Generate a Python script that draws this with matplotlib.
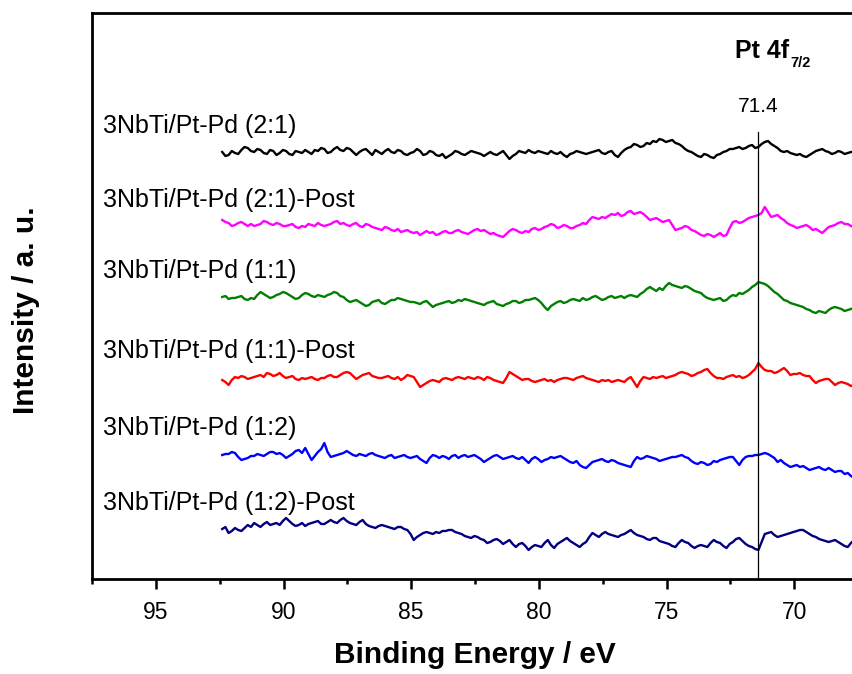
import numpy as np
import matplotlib
matplotlib.use('Agg')
import matplotlib.pyplot as plt
from matplotlib.ticker import MultipleLocator

plt.rcParams['font.family'] = ['Liberation Sans', 'DejaVu Sans']

# binding energy grid (eV)
energy = np.arange(92.4, 67.39, -0.125)

labels = ['3NbTi/Pt-Pd (2:1)', '3NbTi/Pt-Pd (2:1)-Post', '3NbTi/Pt-Pd (1:1)',
          '3NbTi/Pt-Pd (1:1)-Post', '3NbTi/Pt-Pd (1:2)', '3NbTi/Pt-Pd (1:2)-Post']
colors = ['black', '#ff00ff', '#008000', 'red', 'blue', '#000080']
offsets = [426, 352, 281, 201, 124, 49]

# intensities (a.u., relative to each spectrum's own level)
pt_21 = [1, -3, -2, 2, 0, -1, 3, 6, 5, 2, 1, 4, 3, 0, -1, 3, 2, -2, 0, 3,
         2, -1, -2, 2, 1, 0, 3, 1, -1, 3, 2, 5, 4, 0, 1, 4, 6, 3, 2, 5,
         4, 1, -2, 1, 3, 4, 1, -2, 3, 1, -1, 2, 4, 1, 0, 3, 2, -1, -2, 0,
         1, 4, 2, -2, -1, 2, 1, -2, -3, -1, -5, -3, -1, 2, 1, -1, -2, 0, 2, 1,
         0, -1, -3, -1, 1, -1, -2, 0, 2, -2, -6, -3, -1, 2, 1, 0, 3, 1, 0, 2,
         1, 0, -1, 2, 0, -1, 1, -2, -4, -1, 0, 2, 1, 0, -1, 0, 1, 2, 3, 0,
         -1, 1, 2, -2, -4, 0, 3, 5, 6, 9, 8, 6, 7, 10, 9, 12, 11, 14, 13, 11,
         12, 13, 10, 9, 7, 4, 2, 1, -1, -3, -4, -1, -2, -4, -5, -2, -1, 1, 2, 4,
         4, 5, 6, 4, 5, 7, 8, 5, 6, 9, 11, 12, 9, 7, 5, 2, 1, 2, 0, -1,
         -2, -1, -3, -4, -2, 0, 2, 3, 4, 2, 1, -1, 0, 2, 1, -1, 0, 1, 1, 0,
         0]
pt_21_post = [7, 5, 4, 1, 2, 4, 5, 3, 1, 3, 1, 2, 3, 6, 5, 3, 2, 4, 3, 1,
              1, 2, 3, 0, -1, 1, 0, 3, 2, 1, 4, 2, 1, 2, 3, 5, 6, 3, 4, 2,
              1, 3, 4, 1, 0, 3, 2, 0, -1, -2, -3, 0, -1, -3, -4, -2, -5, -4, -3, -5,
              -6, -5, -8, -6, -4, -6, -5, -8, -7, -5, -4, -6, -6, -4, -3, -5, -6, -7, -5, -3,
              -2, -4, -3, -5, -7, -6, -8, -9, -10, -7, -4, -2, -3, -5, -6, -4, -5, -2, -1, -3,
              -2, 0, 1, 3, 2, -1, 0, 2, 1, -1, -1, 1, 2, 4, 3, 7, 10, 9, 8, 10,
              9, 11, 13, 12, 14, 11, 12, 15, 16, 13, 14, 15, 13, 10, 7, 8, 9, 7, 5, 6,
              7, 2, -3, -2, -1, 1, 0, -3, -4, -6, -8, -9, -7, -8, -10, -8, -6, -9, -8, -1,
              5, 6, 4, 5, 7, 9, 10, 11, 12, 14, 20, 15, 10, 11, 12, 9, 7, 4, 2, 1,
              -1, 0, 1, 2, 0, -3, -2, -4, -6, -3, 0, 1, 2, 4, 5, 3, 3, 1, 0, 2,
              1]
pt_11 = [1, 2, -1, 0, 0, 1, 2, -1, -2, 0, -1, 3, 6, 4, 2, 0, 1, 3, 4, 6,
         5, 3, 1, -1, 0, 3, 5, 4, 2, 1, 3, 2, 1, 3, 4, 6, 5, 2, 1, -2,
         -4, -3, -2, -4, -6, -8, -7, -4, -3, -2, -5, -6, -4, -2, -2, 0, -1, -2, -3, -4,
         -4, -5, -6, -4, -3, -6, -9, -7, -6, -5, -4, -3, -5, -4, -2, -3, -1, -2, -3, -4,
         -5, -6, -7, -5, -4, -3, -6, -7, -8, -6, -5, -3, -3, -5, -4, -2, -2, -1, 0, -2,
         -5, -9, -12, -8, -6, -4, -3, -5, -4, -2, -1, -2, -3, 0, -2, -1, 1, 2, 0, -2,
         -1, 1, 2, 0, 1, 2, 0, 2, 3, 2, 1, 4, 6, 9, 11, 9, 7, 10, 8, 12,
         15, 13, 12, 11, 10, 12, 11, 9, 7, 6, 5, 2, 0, -1, -2, -1, 0, -3, -2, 1,
         3, 2, 5, 4, 6, 8, 11, 13, 16, 15, 14, 12, 9, 6, 4, 1, -2, -3, -5, -6,
         -7, -8, -9, -11, -12, -14, -15, -13, -14, -15, -12, -10, -9, -10, -11, -13, -12, -11, -10, -8,
         -9]
pt_11_post = [-2, -4, -7, -2, 1, 0, 2, 1, -1, 0, 1, 2, 3, 1, 5, 4, 2, 3, 5, 2,
              0, 1, 2, -1, -2, 0, -1, 0, 1, -1, -2, 0, 0, 2, 3, 1, 1, 3, 5, 6,
              5, 2, -1, 1, 3, 4, 5, 2, 1, 0, 0, 1, 2, 0, -1, 1, -2, 0, 3, 2,
              1, -4, -9, -7, -5, -3, -2, -3, -4, -1, 0, -1, -2, 0, 1, 0, -1, 1, 0, -1,
              1, 0, -2, 1, 0, -2, -3, -4, -5, 0, 6, 4, 2, 0, -2, -1, -1, -3, -4, -3,
              -2, -1, -3, -2, -4, -2, -1, 0, 0, -1, -2, 0, 1, 2, 0, -1, -2, -3, -4, -2,
              -3, -2, -4, -3, -2, -3, -4, -1, 1, -4, -9, -3, 1, 0, -1, 1, 0, 1, 2, 0,
              1, 2, 3, 5, 6, 5, 4, 2, 3, 5, 6, 8, 9, 5, 2, 0, 0, -1, 1, 2,
              3, 1, 2, 0, 1, 3, 6, 9, 15, 11, 8, 7, 7, 5, 6, 8, 10, 7, 3, 4,
              4, 5, 3, 2, 2, -2, -5, -3, -2, -1, -1, -4, -7, -5, -4, -5, -6, -8, -7, -6,
              -7]
pt_12 = [0, 1, 1, 3, 2, -2, -5, -4, -3, -1, -1, 1, 0, -1, 1, 3, 3, 1, 2, 0,
         -3, -1, 1, 4, 5, 2, 7, 1, -5, -1, 3, 6, 12, 3, -2, -1, 0, 1, 2, 4,
         2, 0, -1, 1, 0, -1, 1, 2, 0, -1, -2, -3, -1, 0, -3, -2, -1, 0, -2, -3,
         -2, -1, -4, -6, -8, -3, 0, -1, -3, -1, -2, -4, -1, 0, -3, -1, 0, -2, -1, 0,
         -2, -4, -7, -5, -3, -1, 0, -2, -4, -3, -2, -1, -3, -4, -2, -5, -8, -4, -2, -4,
         -7, -5, -4, -2, -3, -2, -1, -3, -5, -7, -8, -6, -10, -12, -13, -10, -7, -6, -5, -4,
         -6, -7, -5, -6, -8, -9, -10, -11, -12, -6, -2, -4, -3, -1, -2, -3, -4, -6, -5, -4,
         -3, -2, -2, -1, 0, -2, -3, -6, -8, -9, -7, -8, -10, -9, -6, -7, -5, -4, -3, -2,
         -2, -6, -10, -5, -2, -1, -1, 0, 0, 1, 2, 1, -1, -3, -7, -5, -8, -10, -12, -11,
         -10, -12, -11, -13, -15, -14, -13, -12, -14, -15, -13, -15, -17, -16, -16, -19, -18, -21, -23, -22,
         -24]
pt_12_post = [1, 3, -3, -1, 2, 0, -1, 2, 5, 3, 7, 5, 3, 6, 8, 5, 6, 7, 5, 9,
              12, 9, 6, 4, 5, 7, 4, 6, 7, 8, 9, 6, 6, 8, 10, 8, 7, 10, 12, 9,
              7, 6, 5, 8, 10, 6, 4, 3, 2, 4, 5, 4, 3, 2, 1, 3, 3, 1, 0, -4,
              -10, -7, -5, -3, -2, -3, -4, -2, -3, -1, -1, 0, 0, -2, -3, -4, -6, -7, -8, -6,
              -7, -9, -10, -13, -12, -10, -9, -11, -14, -12, -10, -14, -17, -14, -13, -16, -20, -17, -15, -16,
              -17, -13, -10, -15, -18, -14, -12, -10, -8, -11, -13, -15, -17, -14, -12, -7, -3, -5, -7, -4,
              -2, -4, -5, -6, -7, -5, -4, -2, 0, -3, -5, -6, -7, -9, -10, -8, -8, -11, -12, -13,
              -14, -16, -17, -13, -10, -12, -13, -16, -18, -16, -15, -16, -17, -13, -10, -12, -13, -16, -18, -14,
              -12, -9, -8, -11, -14, -16, -17, -19, -20, -12, -4, -3, -2, -5, -7, -6, -5, -4, -3, -2,
              -1, 0, 0, -2, -4, -6, -7, -9, -10, -11, -12, -11, -10, -12, -14, -16, -17, -13, -10, -11,
              -12]

spectra = [pt_21, pt_21_post, pt_11, pt_11_post, pt_12, pt_12_post]
peak_pos = 71.4

fig = plt.figure(figsize=(8.52, 6.74), dpi=100)
ax = fig.add_axes([92 / 852, 1 - 579 / 674, 766 / 852, 566 / 674])

for lab, col, off, y in zip(labels, colors, offsets, spectra):
    ax.plot(energy, off + np.array(y), color=col, lw=1.7)
    ax.text(97.05, off + 20, lab, fontsize=18, ha='left', va='baseline')

ax.axvline(peak_pos, ymin=0, ymax=447 / 566, color='black', lw=0.9)
ax.text(peak_pos, 467, '71.4', fontsize=15, ha='center', va='baseline')
t = ax.text(72.31, 521, 'Pt 4f', fontsize=18, fontweight='bold', ha='left', va='baseline')
ax.annotate('7/2', xy=(1.0, 0.0), xycoords=t, xytext=(0.5, -5), textcoords='offset points',
            fontsize=10.5, fontweight='bold', ha='left', va='bottom')

ax.set_xlim(97.5, 67.5)
ax.set_ylim(0, 566)
ax.xaxis.set_major_locator(MultipleLocator(5))
ax.xaxis.set_minor_locator(MultipleLocator(2.5))
ax.set_yticks([])
ax.tick_params(axis='x', which='major', direction='out', length=7, width=1.8, labelsize=16.5, pad=9)
ax.tick_params(axis='x', which='minor', direction='out', length=3.5, width=1.8)
for s in ax.spines.values():
    s.set_linewidth(2)

ax.set_xlabel('Binding Energy / eV', fontsize=21.5, fontweight='bold', labelpad=12)
ax.set_ylabel('Intensity / a. u.', fontsize=21.5, fontweight='bold')
ax.yaxis.set_label_coords(-0.068, 0.475)

fig.savefig('out.png', dpi=100)
